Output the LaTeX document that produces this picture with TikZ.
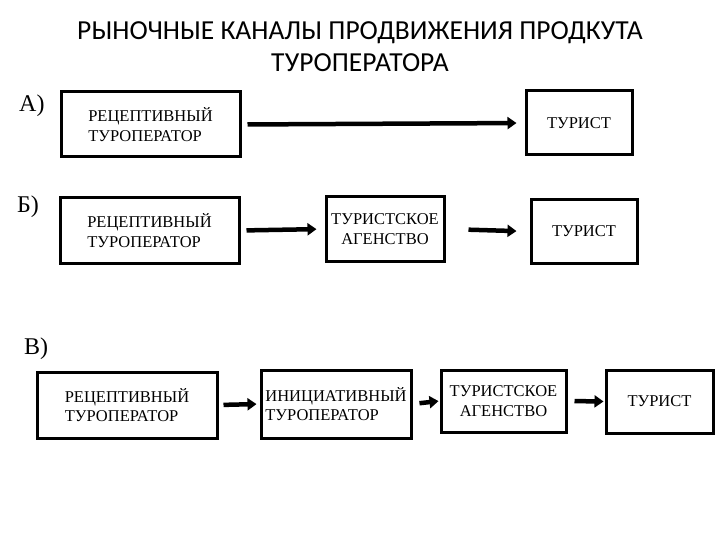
\documentclass[tikz,border=0pt]{standalone}
\usepackage{fontspec}
\setmainfont{Liberation Serif}
\newfontfamily\titlefont{Carlito}
\usetikzlibrary{arrows.meta}
\begin{document}
\begin{tikzpicture}[x=1pt,y=-1pt,
  box/.style={draw=black,line width=3pt,inner sep=0pt,align=left,font=\fontsize{16.5}{19.5}\selectfont},
  arr/.style={line width=4.5pt,-{Triangle[length=9pt,width=12pt]}},
  lbl/.style={font=\fontsize{24}{26}\selectfont,anchor=west,inner sep=0pt}]
\useasboundingbox (0,0) rectangle (720,540);
\node[font=\titlefont\fontsize{27.5}{32}\selectfont,align=center] (title) at (360,47) {РЫНОЧНЫЕ КАНАЛЫ ПРОДВИЖЕНИЯ ПРОДКУТА\\ТУРОПЕРАТОРА};
% A
\node[lbl] (la) at (19,106) {А)};
\node[box,minimum width=179pt,minimum height=65pt] (a1) at (150.5,124.5) {РЕЦЕПТИВНЫЙ\\ТУРОПЕРАТОР};
\node[box,minimum width=106pt,minimum height=64pt,align=center] (a2) at (579,123) {ТУРИСТ};
\draw[arr,shorten <=6pt,shorten >=8pt] (a1.east) -- (a2.west);
% B
\node[lbl] (lb) at (17,207) {Б)};
\node[box,minimum width=179pt,minimum height=65pt] (b1) at (149.5,230.5) {РЕЦЕПТИВНЫЙ\\ТУРОПЕРАТОР};
\node[box,minimum width=118pt,minimum height=64pt,align=center] (b2) at (385,229) {ТУРИСТСКОЕ\\АГЕНСТВО};
\node[box,minimum width=106pt,minimum height=63pt,align=center] (b3) at (584,231.5) {ТУРИСТ};
\draw[arr,shorten <=6pt,shorten >=8pt] (b1.east) -- (b2.west);
\draw[arr,shorten <=23pt,shorten >=13pt] (b2.east) -- (b3.west);
% V
\node[lbl] (lv) at (24,349) {В)};
\node[box,minimum width=180pt,minimum height=66pt] (v1) at (127,405) {РЕЦЕПТИВНЫЙ\\ТУРОПЕРАТОР};
\node[box,minimum width=150pt,minimum height=68pt] (v2) at (336,404) {ИНИЦИАТИВНЫЙ\\ТУРОПЕРАТОР};
\node[box,minimum width=125pt,minimum height=62pt,align=center] (v3) at (503.5,401) {ТУРИСТСКОЕ\\АГЕНСТВО};
\node[box,minimum width=107pt,minimum height=63pt,align=center] (v4) at (659.5,401.5) {ТУРИСТ};
\draw[arr,shorten <=5pt,shorten >=3pt] (v1.east) -- (v2.west);
\draw[arr,shorten <=7pt,shorten >=1pt] (v2.east) -- (v3.west);
\draw[arr,shorten <=7pt,shorten >=1pt] (v3.east) -- (v4.west);
\end{tikzpicture}
\end{document}
